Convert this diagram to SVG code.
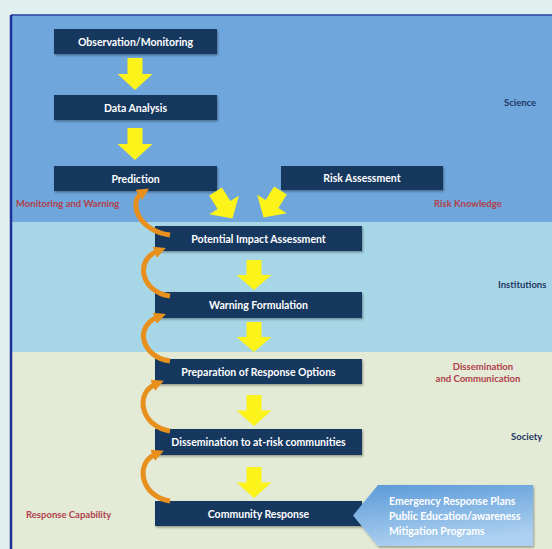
<svg xmlns="http://www.w3.org/2000/svg" width="552" height="549" viewBox="0 0 552 549">
  <defs>
    <style>
      .node rect { fill: #17375e; filter: url(#shadow); }
      .node text { fill: #ffffff; font-family: Lato, "Liberation Sans", sans-serif; font-weight: bold; font-size: 10.5px; text-anchor: middle; }
      .band-label { font-family: Lato, "Liberation Sans", sans-serif; font-weight: bold; font-size: 9.5px; fill: #1f3864; }
      .red-label { font-family: Lato, "Liberation Sans", sans-serif; font-weight: bold; font-size: 9.5px; fill: #b0404a; }
      .flow { fill: #fbf31a; }
      .loop { fill: none; stroke: #e8901e; stroke-width: 5; stroke-linecap: butt; marker-end: url(#loopHead); }
      .callout-text { fill: #ffffff; font-family: Lato, "Liberation Sans", sans-serif; font-weight: bold; font-size: 10.5px; }
    </style>
    <filter id="shadow" x="-5%" y="-20%" width="110%" height="150%">
      <feDropShadow dx="1" dy="1.5" stdDeviation="1" flood-color="#000" flood-opacity="0.35"/>
    </filter>
    <linearGradient id="calloutFill" x1="0" y1="0" x2="0.3" y2="1">
      <stop offset="0" stop-color="#5b9ad8"/>
      <stop offset="1" stop-color="#acd0f0"/>
    </linearGradient>
    <!-- block arrow pointing down, origin at top centre -->
    <path id="downArrow" d="M-7.5,0 H7.5 V16 H17.5 L0,32 L-17.5,16 H-7.5 Z"/>
    <marker id="loopHead" markerUnits="userSpaceOnUse" viewBox="0 0 10 10" markerWidth="12" markerHeight="12" refX="3" refY="5" orient="auto">
      <path d="M0,0 L10,5 L0,10 Z" fill="#e8901e"/>
    </marker>
  </defs>

  <!-- page and frame -->
  <rect x="0" y="0" width="552" height="549" fill="#dff0ee"/>
  <g id="bands">
    <rect x="11" y="15" width="541" height="207" fill="#6fa7dd"/>
    <rect x="11" y="222" width="541" height="130" fill="#a7d7e6"/>
    <rect x="11" y="352" width="541" height="197" fill="#e3ead5"/>
    <line x1="11" y1="15" x2="552" y2="15" stroke="#2a3f9e" stroke-width="1.5"/>
    <line x1="11" y1="15" x2="11" y2="549" stroke="#1f2f9a" stroke-width="2.5"/>
  </g>

  <!-- band labels -->
  <g id="labels">
    <text class="band-label" x="504" y="106">Science</text>
    <text class="band-label" x="498" y="288">Institutions</text>
    <text class="band-label" x="511" y="440">Society</text>
    <text class="red-label" x="16" y="207">Monitoring and Warning</text>
    <text class="red-label" x="434" y="207">Risk Knowledge</text>
    <text class="red-label" x="483" y="370" text-anchor="middle">Dissemination</text>
    <text class="red-label" x="478" y="382" text-anchor="middle">and Communication</text>
    <text class="red-label" x="26" y="518">Response Capability</text>
  </g>

  <!-- process nodes -->
  <g id="observation" class="node">
    <rect x="54" y="29" width="163" height="25"/>
    <text x="135.5" y="45.5">Observation/Monitoring</text>
  </g>
  <g id="data-analysis" class="node">
    <rect x="54" y="95" width="163" height="25"/>
    <text x="135.5" y="111.5">Data Analysis</text>
  </g>
  <g id="prediction" class="node">
    <rect x="54" y="166" width="163" height="25"/>
    <text x="135.5" y="182.5">Prediction</text>
  </g>
  <g id="risk-assessment" class="node">
    <rect x="281" y="166" width="162" height="24"/>
    <text x="362" y="182">Risk Assessment</text>
  </g>
  <g id="impact-assessment" class="node">
    <rect x="155" y="226" width="207" height="25"/>
    <text x="258.5" y="242.5">Potential Impact Assessment</text>
  </g>
  <g id="warning-formulation" class="node">
    <rect x="155" y="292" width="207" height="26"/>
    <text x="258.5" y="309">Warning Formulation</text>
  </g>
  <g id="response-options" class="node">
    <rect x="155" y="359" width="207" height="25"/>
    <text x="258.5" y="375.5">Preparation of Response Options</text>
  </g>
  <g id="dissemination" class="node">
    <rect x="155" y="429" width="207" height="26"/>
    <text x="258.5" y="446">Dissemination to at-risk communities</text>
  </g>
  <g id="community-response" class="node">
    <rect x="155" y="501" width="207" height="25"/>
    <text x="258.5" y="517.5">Community Response</text>
  </g>

  <!-- connectors: yellow flow arrows and orange feedback loops -->
  <g id="connectors">
    <use href="#downArrow" class="flow" transform="translate(135,58)"/>
    <use href="#downArrow" class="flow" transform="translate(135,128)"/>
    <use href="#downArrow" class="flow" transform="translate(224,205) rotate(-32) translate(0,-16)"/>
    <use href="#downArrow" class="flow" transform="translate(272,204) rotate(32) translate(0,-16)"/>
    <use href="#downArrow" class="flow" transform="translate(254,260) scale(1,0.94)"/>
    <use href="#downArrow" class="flow" transform="translate(254,322) scale(1,0.94)"/>
    <use href="#downArrow" class="flow" transform="translate(254,395) scale(1,0.97)"/>
    <use href="#downArrow" class="flow" transform="translate(254,467) scale(1,0.97)"/>

    <path class="loop" d="M170,235 C138,231 128,202 142,193"/>
    <path class="loop" d="M170,296 C141,292 134,260 158,251"/>
    <path class="loop" d="M170,361 C141,357 134,326 158,317"/>
    <path class="loop" d="M170,431 C141,427 134,393 156,384"/>
    <path class="loop" d="M170,501 C141,497 134,463 156,454"/>
  </g>

  <!-- callout feeding the community response -->
  <g id="preparedness-callout">
    <polygon points="378,485 533,485 533,546 378,546 353,515.5" fill="url(#calloutFill)" filter="url(#shadow)"/>
    <text class="callout-text" x="389" y="505">Emergency Response Plans</text>
    <text class="callout-text" x="389" y="520">Public Education/awareness</text>
    <text class="callout-text" x="389" y="535">Mitigation Programs</text>
  </g>
</svg>
